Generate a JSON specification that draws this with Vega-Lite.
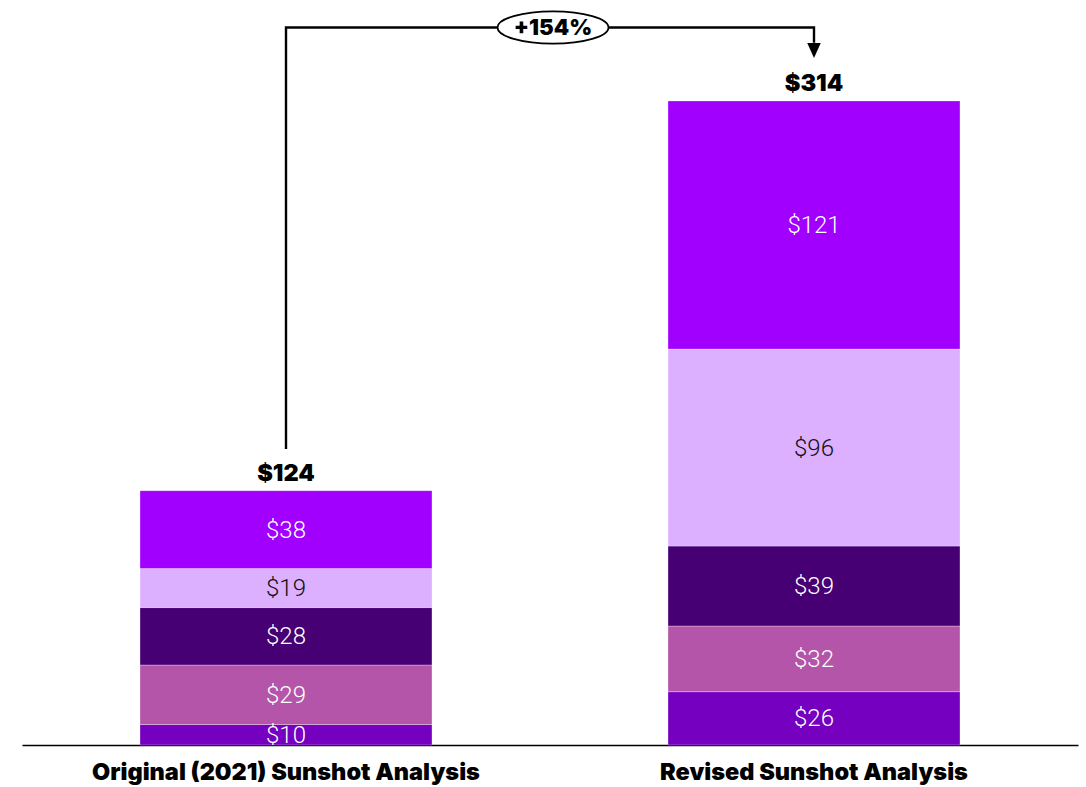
{
  "$schema": "https://vega.github.io/schema/vega-lite/v6.json",
  "autosize": {"type": "none"},
  "padding": {"left": 22, "top": 0, "right": 8, "bottom": 42},
  "width": 1056,
  "height": 745,
  "background": "white",
  "config": {"view": {"stroke": null}},
  "datasets": {
    "segments": [
      {"cat": "Original (2021) Sunshot Analysis", "series": "s1", "idx": 1, "value": 10},
      {"cat": "Original (2021) Sunshot Analysis", "series": "s2", "idx": 2, "value": 29},
      {"cat": "Original (2021) Sunshot Analysis", "series": "s3", "idx": 3, "value": 28},
      {"cat": "Original (2021) Sunshot Analysis", "series": "s4", "idx": 4, "value": 19},
      {"cat": "Original (2021) Sunshot Analysis", "series": "s5", "idx": 5, "value": 38},
      {"cat": "Revised Sunshot Analysis", "series": "s1", "idx": 1, "value": 26},
      {"cat": "Revised Sunshot Analysis", "series": "s2", "idx": 2, "value": 32},
      {"cat": "Revised Sunshot Analysis", "series": "s3", "idx": 3, "value": 39},
      {"cat": "Revised Sunshot Analysis", "series": "s4", "idx": 4, "value": 96},
      {"cat": "Revised Sunshot Analysis", "series": "s5", "idx": 5, "value": 121}
    ],
    "totals": [
      {"cat": "Original (2021) Sunshot Analysis", "total": 124},
      {"cat": "Revised Sunshot Analysis", "total": 314}
    ],
    "bracket": [
      {"cat": "Original (2021) Sunshot Analysis", "y": 144.3, "o": 1},
      {"cat": "Original (2021) Sunshot Analysis", "y": 349.8, "o": 2},
      {"cat": "Revised Sunshot Analysis", "y": 349.8, "o": 3},
      {"cat": "Revised Sunshot Analysis", "y": 342.3, "o": 4}
    ],
    "arrow": [
      {"cat": "Revised Sunshot Analysis", "y": 338.6}
    ],
    "badge": [
      {"cat": "Original (2021) Sunshot Analysis", "y": 349.8, "label": "+154%"}
    ]
  },
  "layer": [
    {
      "data": {"name": "segments"},
      "transform": [
        {"stack": "value", "groupby": ["cat"], "sort": [{"field": "idx", "order": "ascending"}], "as": ["v0", "v1"]}
      ],
      "mark": {"type": "bar", "stroke": "white", "strokeWidth": 0.6, "strokeOpacity": 0.5},
      "encoding": {
        "x": {
          "field": "cat", "type": "nominal", "sort": null,
          "scale": {"paddingInner": 0.447, "paddingOuter": 0.2235},
          "axis": {
            "title": null, "ticks": false, "labelAngle": 0, "labelLimit": 0,
            "labelFont": "Inter", "labelFontSize": 23.5, "labelFontWeight": 900, "labelColor": "black",
            "labelPadding": 15, "domainColor": "black", "domainWidth": 1.5
          }
        },
        "y": {"field": "v0", "type": "quantitative", "scale": {"domain": [0, 363.2], "nice": false, "zero": true}, "axis": null},
        "y2": {"field": "v1"},
        "color": {
          "field": "series", "type": "nominal", "legend": null,
          "scale": {"domain": ["s1", "s2", "s3", "s4", "s5"], "range": ["#7500C0", "#B455AA", "#460073", "#DCAFFF", "#A100FF"]}
        }
      }
    },
    {
      "data": {"name": "segments"},
      "transform": [
        {"stack": "value", "groupby": ["cat"], "sort": [{"field": "idx", "order": "ascending"}], "as": ["v0", "v1"]},
        {"calculate": "(datum.v0 + datum.v1) / 2", "as": "mid"},
        {"calculate": "'$' + datum.value", "as": "txt"}
      ],
      "mark": {"type": "text", "font": "Roboto", "fontSize": 24, "fontWeight": 300, "baseline": "middle", "align": "center", "dy": 1},
      "encoding": {
        "x": {"field": "cat", "type": "nominal", "sort": null},
        "y": {"field": "mid", "type": "quantitative"},
        "text": {"field": "txt"},
        "color": {"condition": {"test": "datum.series == 's4'", "value": "#111111"}, "value": "white"}
      }
    },
    {
      "data": {"name": "totals"},
      "transform": [{"calculate": "'$' + datum.total", "as": "txt"}],
      "mark": {"type": "text", "font": "Inter", "fontSize": 23.5, "fontWeight": 900, "baseline": "alphabetic", "align": "center", "dy": -10, "color": "black"},
      "encoding": {
        "x": {"field": "cat", "type": "nominal", "sort": null},
        "y": {"field": "total", "type": "quantitative"},
        "text": {"field": "txt"}
      }
    },
    {
      "data": {"name": "bracket"},
      "mark": {"type": "line", "color": "black", "strokeWidth": 2.4, "interpolate": "linear"},
      "encoding": {
        "x": {"field": "cat", "type": "nominal", "sort": null},
        "y": {"field": "y", "type": "quantitative"},
        "order": {"field": "o"}
      }
    },
    {
      "data": {"name": "arrow"},
      "mark": {"type": "point", "shape": "M-0.9,-1L0.9,-1L0,1Z", "size": 225, "filled": true, "color": "black", "opacity": 1},
      "encoding": {
        "x": {"field": "cat", "type": "nominal", "sort": null},
        "y": {"field": "y", "type": "quantitative"}
      }
    },
    {
      "data": {"name": "badge"},
      "mark": {"type": "point", "shape": "M-1,0A1,0.29 0 1,1 1,0A1,0.29 0 1,1 -1,0Z", "size": 12321, "filled": true, "fill": "white", "stroke": "black", "strokeWidth": 1.8, "opacity": 1, "fillOpacity": 1},
      "encoding": {
        "x": {"field": "cat", "type": "nominal", "sort": null, "bandPosition": 1.4144},
        "y": {"field": "y", "type": "quantitative"}
      }
    },
    {
      "data": {"name": "badge"},
      "mark": {"type": "text", "font": "Inter", "fontSize": 22, "fontWeight": 900, "baseline": "middle", "align": "center", "color": "black", "dy": 1},
      "encoding": {
        "x": {"field": "cat", "type": "nominal", "sort": null, "bandPosition": 1.4144},
        "y": {"field": "y", "type": "quantitative"},
        "text": {"field": "label"}
      }
    }
  ]
}
